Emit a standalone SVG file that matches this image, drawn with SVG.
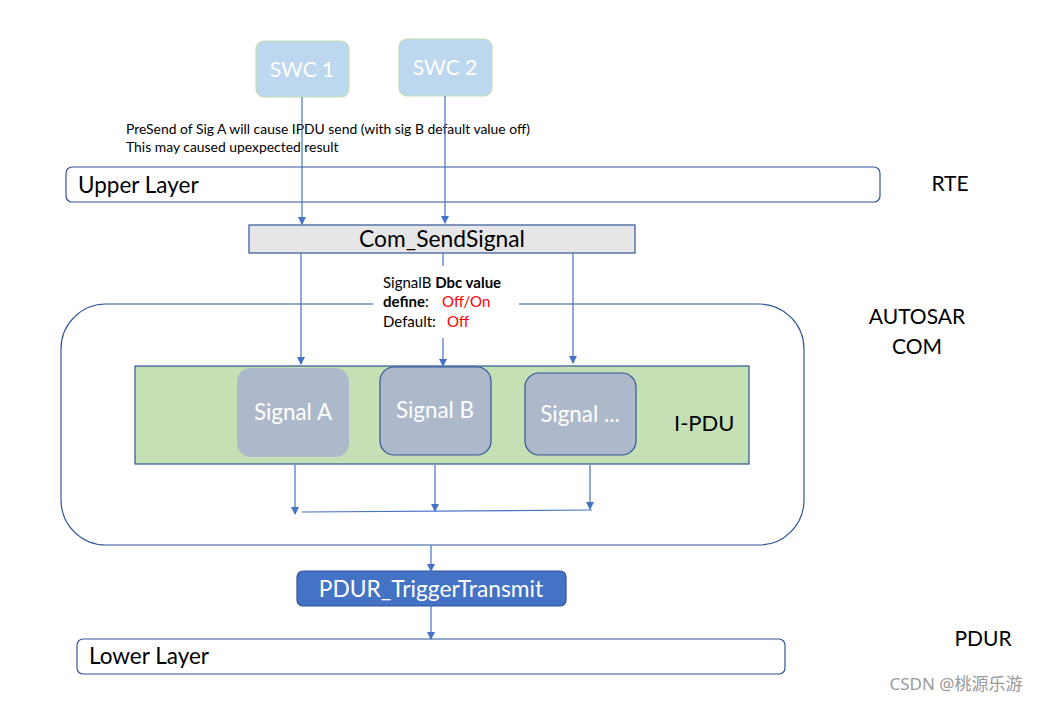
<svg xmlns="http://www.w3.org/2000/svg" width="1040" height="701" viewBox="0 0 1040 701">
<style>
.t{font-family:Lato,"Open Sans","Liberation Sans",sans-serif;}
.lay{fill:#fff;stroke:#2F5597;stroke-width:1.2;}
.w{fill:#fff;}
.k{fill:#000;}
.c{stroke:#4472C4;stroke-width:1.2;fill:none;}
.sig{fill:#ADB9CA;}
.red{fill:#FF0000;}
</style>
<defs>
<marker id="ah" markerWidth="8" markerHeight="8" refX="7" refY="4" orient="auto" markerUnits="userSpaceOnUse">
<path d="M0,0 L8,4 L0,8 Z" fill="#4472C4"/>
</marker>
</defs>
<rect width="1040" height="701" fill="#fff"/>

<g id="autosar-com">
<rect x="61" y="304" width="743" height="241" rx="45" class="lay"/>
</g>
<g id="upper-layer">
<rect x="66" y="167" width="814" height="35" rx="6" class="lay"/>
<text x="78" y="193" class="t k" font-size="22.5">Upper Layer</text>
</g>
<g id="lower-layer">
<rect x="77" y="639" width="708" height="35" rx="6" class="lay"/>
<text x="89" y="664" class="t k" font-size="22.5">Lower Layer</text>
</g>
<g id="swc1">
<rect x="256" y="41" width="93" height="56" rx="8" fill="#BDD7EE" stroke="#C5E0B4" stroke-width="1.2"/>
<text x="302" y="77" class="t w" font-size="21" text-anchor="middle">SWC 1</text>
</g>
<g id="swc2">
<rect x="399" y="39" width="93" height="57" rx="8" fill="#BDD7EE" stroke="#C5E0B4" stroke-width="1.2"/>
<text x="445" y="75" class="t w" font-size="21" text-anchor="middle">SWC 2</text>
</g>
<g id="note">
<text x="126" y="134" class="t k" font-size="13.9">PreSend of Sig A will cause IPDU send (with sig B default value off)</text>
<text x="126" y="152" class="t k" font-size="13.9">This may caused upexpected result</text>
</g>
<g id="com-sendsignal">
<rect x="249" y="225" width="386" height="28" fill="#E7E6E6" stroke="#2F5597" stroke-width="1.2"/>
<text x="442" y="247" class="t k" font-size="22.8" text-anchor="middle">Com_SendSignal</text>
</g>
<g id="ipdu">
<rect x="135" y="366" width="614" height="98" fill="#C5E0B4" stroke="#2F5597" stroke-width="1.2"/>
<text x="674" y="431" class="t k" font-size="22">I-PDU</text>
</g>
<g id="signal-a">
<rect x="237" y="368" width="112" height="89" rx="14" class="sig"/>
<text x="293" y="420" class="t w" font-size="22.4" text-anchor="middle">Signal A</text>
</g>
<g id="signal-b">
<rect x="380" y="367" width="111" height="88" rx="14" class="sig" stroke="#2F5597" stroke-width="1.2"/>
<text x="435" y="418" class="t w" font-size="22.4" text-anchor="middle">Signal B</text>
</g>
<g id="signal-etc">
<rect x="525" y="373" width="111" height="82" rx="14" class="sig" stroke="#2F5597" stroke-width="1.2"/>
<text x="580" y="422" class="t w" font-size="22.4" text-anchor="middle">Signal ...</text>
</g>
<g id="dbc-note">
<rect x="373" y="270" width="146" height="66" fill="#fff"/>
<text x="383" y="288" class="t k" font-size="15">SignalB <tspan font-weight="bold">Dbc value</tspan></text>
<text x="383" y="307" class="t k" font-size="15"><tspan font-weight="bold">define</tspan>:<tspan x="442" class="red">Off/On</tspan></text>
<text x="383" y="327" class="t k" font-size="15">Default:<tspan x="447" class="red">Off</tspan></text>
</g>
<g id="pdur-trigger">
<rect x="297" y="571" width="269" height="35" rx="6" fill="#4472C4" stroke="#2F5597" stroke-width="1.2"/>
<text x="431" y="597" class="t w" font-size="22.8" text-anchor="middle">PDUR_TriggerTransmit</text>
</g>
<g id="labels">
<text x="950" y="191" class="t k" font-size="21" text-anchor="middle">RTE</text>
<text x="917" y="324" class="t k" font-size="21" text-anchor="middle">AUTOSAR</text>
<text x="917" y="354" class="t k" font-size="21" text-anchor="middle">COM</text>
<text x="983" y="646" class="t k" font-size="21" text-anchor="middle">PDUR</text>
<text x="956" y="690" font-family="'Noto Sans','Noto Sans CJK SC',sans-serif" font-size="17" fill="#999" text-anchor="middle">CSDN @桃源乐游</text>
</g>
<g id="connectors">
<line x1="302" y1="97" x2="302" y2="224" class="c" marker-end="url(#ah)"/>
<line x1="445" y1="96" x2="445" y2="223" class="c" marker-end="url(#ah)"/>
<line x1="301" y1="253" x2="301" y2="364" class="c" marker-end="url(#ah)"/>
<line x1="443" y1="253" x2="443" y2="266" class="c"/>
<line x1="443" y1="338" x2="443" y2="366" class="c" marker-end="url(#ah)"/>
<line x1="573" y1="253" x2="573" y2="363" class="c" marker-end="url(#ah)"/>
<line x1="295" y1="465" x2="295" y2="514" class="c" marker-end="url(#ah)"/>
<line x1="435" y1="465" x2="435" y2="511" class="c" marker-end="url(#ah)"/>
<line x1="590" y1="465" x2="590" y2="509" class="c" marker-end="url(#ah)"/>
<line x1="302" y1="512" x2="592" y2="510" class="c"/>
<line x1="431" y1="545" x2="431" y2="571" class="c" marker-end="url(#ah)"/>
<line x1="431" y1="606" x2="431" y2="639" class="c" marker-end="url(#ah)"/>
</g>
</svg>
